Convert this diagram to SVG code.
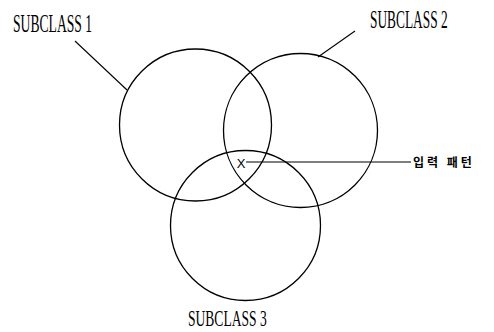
<svg xmlns="http://www.w3.org/2000/svg" width="494" height="332" viewBox="0 0 494 332">
<style>
.c{fill:none;stroke:#000;stroke-width:1.3}
.l{fill:none;stroke:#000;stroke-width:1.1}
.t{font-family:"Liberation Serif",serif;font-size:25px;fill:#000}
.k{font-family:"Noto Sans CJK KR",sans-serif;font-size:12px;font-weight:bold;fill:#000;letter-spacing:3px}
</style>
<rect width="494" height="332" fill="#fff"/>
<g id="subclass1">
<circle class="c" cx="195.5" cy="125" r="76"/>
<text class="t" transform="translate(13,32) scale(0.545,1)">SUBCLASS 1</text>
</g>
<g id="subclass2">
<circle class="c" cx="300.5" cy="130.5" r="77"/>
<text class="t" transform="translate(370,28) scale(0.535,1)">SUBCLASS 2</text>
</g>
<g id="subclass3">
<circle class="c" cx="245.5" cy="225.5" r="75"/>
<text class="t" style="font-size:24px" transform="translate(188,326) scale(0.565,1)">SUBCLASS 3</text>
</g>
<g id="input">
<text x="241" y="168" font-family="Liberation Sans,sans-serif" font-size="13" text-anchor="middle">X</text>
<text class="k" x="413" y="167">입력 패턴</text>
</g>
<g id="connectors">
<line class="l" x1="75" y1="41" x2="127" y2="90"/>
<line class="l" x1="355" y1="31" x2="318" y2="57"/>
<line class="l" x1="246" y1="162" x2="411" y2="162"/>
</g>
</svg>
